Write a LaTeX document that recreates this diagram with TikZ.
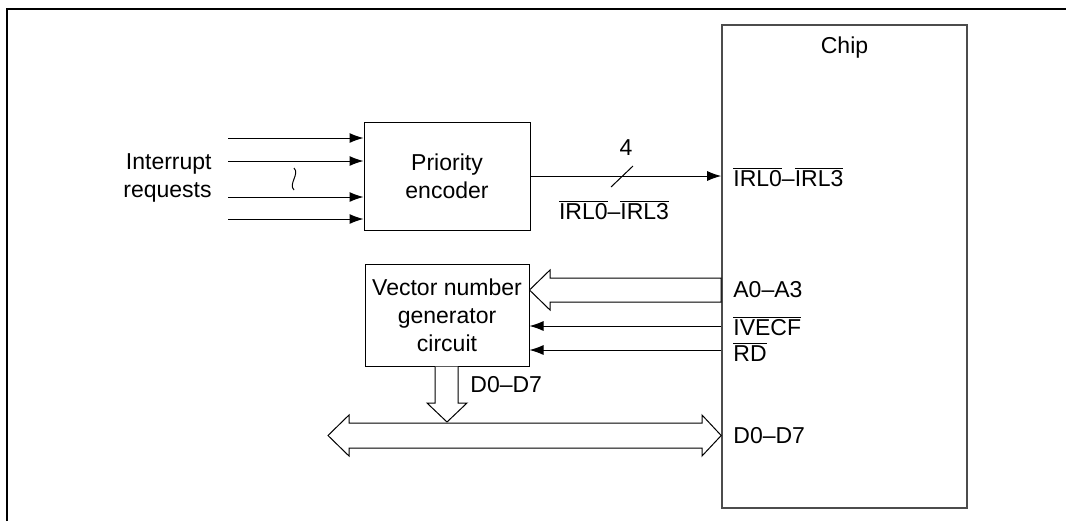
\documentclass[tikz,border=0pt]{standalone}
\usepackage{fontspec}
\setmainfont{Liberation Sans}
\usetikzlibrary{arrows.meta,positioning}
\newcommand{\Neg}[1]{$\overline{\mbox{#1}}$}
\tikzset{
  lbl/.style={font=\fontsize{11.5}{14}\selectfont, inner sep=0pt},
  blk/.style={draw, line width=0.5pt, inner sep=0pt, align=center, font=\fontsize{11.5}{14}\selectfont},
  sig/.style={line width=0.5pt, -{Latex[length=7pt,width=5pt]}},
  bus/.style={draw, fill=white, line width=0.5pt, line join=miter}
}

\begin{document}
\begin{tikzpicture}[x=0.5pt,y=-0.5pt]
\useasboundingbox (0,0) rectangle (1066,521);
\draw[line width=1.3pt] (7,521) -- (7,9) -- (1066,9);

	\node[blk, minimum width=83pt, minimum height=54pt] (pe) at (447,176) {Priority\\encoder};
	\node[blk, minimum width=82pt, minimum height=51pt] (vng) at (447,315) {Vector number\\generator\\circuit};
	\node[blk, draw=black!70, line width=0.8pt, minimum width=122.5pt, minimum height=241.5pt] (chip) at (844.5,266.5) {};
	\node[lbl] (chipname) at (844.5,48) {Chip};
	\node[lbl, anchor=east, align=right] (irq) at (212,177.5) {Interrupt\\requests};

	% interrupt inputs
	\foreach \y [count=\i] in {138,161,197,219} {
		\coordinate (in\i) at (228,\y);
		\draw[sig] (in\i) -- (pe.west |- in\i);
	}
	\draw[line width=0.5pt] (294,168) .. controls (300,174) and (288,184) .. (294,190);

	% encoder to chip
	\draw[sig] (pe.east) -- (chip.west |- pe.east);
	\draw[line width=0.5pt] (611,187) -- (633,166);
	\node[lbl] (width) at (626,148) {4};
	\node[lbl] (irlout) at (614,210) {\Neg{IRL0}--\Neg{IRL3}};
	\node[lbl, anchor=west] (irlin) at (733,177) {\Neg{IRL0}--\Neg{IRL3}};

	% chip to vector number generator
	\draw[bus] (vng.east |- 0,290) -- (550,270) -- (550,278) -- (chip.west |- 0,278)
		-- (chip.west |- 0,302) -- (550,302) -- (550,310) -- cycle;
	\node[lbl, anchor=west] (addr) at (733,290) {A0--A3};
	\draw[sig] (chip.west |- 0,326) -- (vng.east |- 0,326);
	\node[lbl, anchor=west] (ivecf) at (733,326) {\Neg{IVECF}};
	\draw[sig] (chip.west |- 0,350) -- (vng.east |- 0,350);
	\node[lbl, anchor=west] (rd) at (733,352) {\Neg{RD}};

	% data bus
	\draw[bus] (328,435.5) -- (349,415) -- (349,423) -- (702,423) -- (702,415)
		-- (chip.west |- 0,435.5) -- (702,456) -- (702,448) -- (349,448) -- (349,456) -- cycle;
	\draw[bus] (vng.south -| 435,0) -- (435,403) -- (427,403) -- (447,422) -- (467,403)
		-- (458,403) -- (vng.south -| 458,0);
	\node[lbl, anchor=west] (dout) at (470,385) {D0--D7};
	\node[lbl, anchor=west] (din) at (733,436) {D0--D7};

\end{tikzpicture}
\end{document}
